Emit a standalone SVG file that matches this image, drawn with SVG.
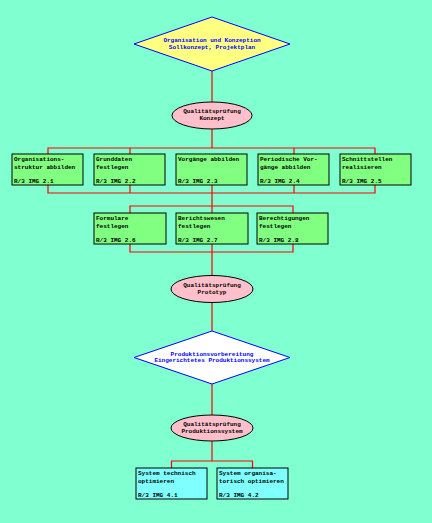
<svg xmlns="http://www.w3.org/2000/svg" width="432" height="523" viewBox="0 0 432 523">
<style>
text{font-family:"Liberation Mono","DejaVu Sans Mono",monospace;font-size:6px;font-weight:bold}
.c{text-anchor:middle}
.blue{fill:#0000ff}
.box rect{fill:#80ff80;stroke:#000;stroke-width:1}
.cy rect{fill:#80ffff}
.ell{fill:#ffc0cb;stroke:#000;stroke-width:1}
.con{fill:none;stroke:#ff0000;stroke-width:1.2}
</style>
<rect width="432" height="523" fill="#80ffd0"/>
<g id="connectors" class="con">
<path d="M212,71V102"/>
<path d="M212,129V148M48,154V148H375V154M130,148V154M294,148V154"/>
<path d="M48,185V193H375V185M130,185V193M212,185V193M294,185V193"/>
<path d="M212,193V206M130,213V206H293V213M212,206V213"/>
<path d="M130,244V252H293V244M212,244V276"/>
<path d="M212,302V331"/>
<path d="M212,384V415"/>
<path d="M212,441V461M171.5,468V461H252.5V468"/>
</g>
<g id="d1">
<polygon points="212,17 290,44 212,71 134,44" fill="#ffff80" stroke="#0000ff" stroke-width="1"/>
<text class="c blue" x="212" y="42">Organisation und Konzeption</text>
<text class="c blue" x="212" y="48.5">Sollkonzept, Projektplan</text>
</g>
<g id="e1">
<ellipse class="ell" cx="212" cy="115.5" rx="40" ry="13.5"/>
<text class="c" x="212" y="113">Qualitätsprüfung</text>
<text class="c" x="212" y="120">Konzept</text>
</g>
<g id="b1" class="box"><rect x="12" y="154" width="71" height="31"/>
<text x="14" y="161">Organisations-</text><text x="14" y="168.5">struktur abbilden</text><text x="14" y="183">R/3 IMG 2.1</text></g>
<g id="b2" class="box"><rect x="94" y="154" width="71" height="31"/>
<text x="96" y="161">Grunddaten</text><text x="96" y="168.5">festlegen</text><text x="96" y="183">R/3 IMG 2.2</text></g>
<g id="b3" class="box"><rect x="176" y="154" width="71" height="31"/>
<text x="178" y="161">Vorgänge abbilden</text><text x="178" y="183">R/3 IMG 2.3</text></g>
<g id="b4" class="box"><rect x="258" y="154" width="71" height="31"/>
<text x="260" y="161">Periodische Vor-</text><text x="260" y="168.5">gänge abbilden</text><text x="260" y="183">R/3 IMG 2.4</text></g>
<g id="b5" class="box"><rect x="340" y="154" width="71" height="31"/>
<text x="342" y="161">Schnittstellen</text><text x="342" y="168.5">realisieren</text><text x="342" y="183">R/3 IMG 2.5</text></g>
<g id="b6" class="box"><rect x="94" y="213" width="72" height="31"/>
<text x="96" y="220">Formulare</text><text x="96" y="227.5">festlegen</text><text x="96" y="242">R/3 IMG 2.6</text></g>
<g id="b7" class="box"><rect x="176" y="213" width="72" height="31"/>
<text x="178" y="220">Berichtswesen</text><text x="178" y="227.5">festlegen</text><text x="178" y="242">R/3 IMG 2.7</text></g>
<g id="b8" class="box"><rect x="257" y="213" width="71" height="31"/>
<text x="259" y="220">Berechtigungen</text><text x="259" y="227.5">festlegen</text><text x="259" y="242">R/3 IMG 2.8</text></g>
<g id="e2">
<ellipse class="ell" cx="212" cy="289" rx="41" ry="13.5"/>
<text class="c" x="212" y="287">Qualitätsprüfung</text>
<text class="c" x="212" y="294">Prototyp</text>
</g>
<g id="d2">
<polygon points="212,331 290,357.5 212,384 134,357.5" fill="#ffffff" stroke="#0000ff" stroke-width="1"/>
<text class="c blue" x="212" y="355.5">Produktionsvorbereitung</text>
<text class="c blue" x="212" y="362">Eingerichtetes Produktionssystem</text>
</g>
<g id="e3">
<ellipse class="ell" cx="212" cy="428" rx="41" ry="13"/>
<text class="c" x="212" y="426">Qualitätsprüfung</text>
<text class="c" x="212" y="433">Produktionssystem</text>
</g>
<g id="b9" class="box cy"><rect x="136" y="468" width="71" height="31"/>
<text x="138" y="475">System technisch</text><text x="138" y="482.5">optimieren</text><text x="138" y="497">R/3 IMG 4.1</text></g>
<g id="b10" class="box cy"><rect x="217" y="468" width="71" height="31"/>
<text x="219" y="475">System organisa-</text><text x="219" y="482.5">torisch optimieren</text><text x="219" y="497">R/3 IMG 4.2</text></g>
</svg>
